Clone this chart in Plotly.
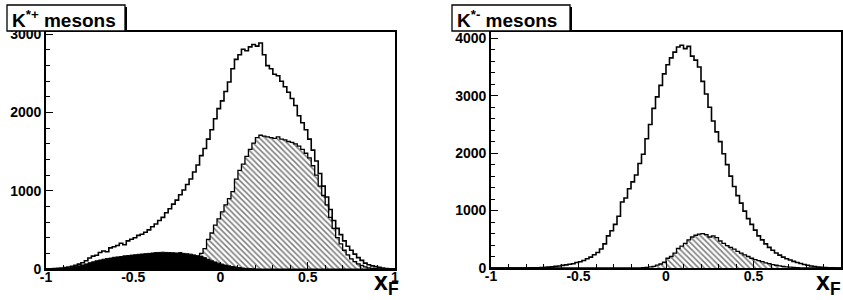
import numpy as np
import plotly.graph_objects as go

# 100 bins of width 0.02 from -1 to 1 (x_F)
BIN_EDGES = np.round(np.linspace(-1.0, 1.0, 101), 4)

# ---- K*+ mesons (left) ----
kplus_total = [
    0, 2, 5, 8, 12, 18, 25, 35, 48, 62,
    80, 105, 140, 165, 175, 210, 230, 220, 270, 285,
    300, 330, 310, 360, 380, 400, 430, 445, 470, 500,
    540, 575, 620, 660, 720, 770, 830, 880, 950, 1010,
    1080, 1150, 1240, 1330, 1450, 1540, 1660, 1780, 1920, 2050,
    2150, 2270, 2390, 2560, 2680, 2740, 2810, 2790, 2840, 2870,
    2850, 2890, 2740, 2600, 2560, 2490, 2470, 2400, 2330, 2260,
    2180, 2090, 1960, 1870, 1780, 1660, 1520, 1380, 1220, 1060,
    920, 760, 620, 520, 440, 360, 290, 240, 190, 145,
    110, 75, 55, 40, 30, 22, 12, 6, 2, 0,
]
kplus_hatched = [
    0, 0, 0, 0, 0, 0, 0, 0, 0, 0,
    0, 0, 0, 0, 0, 0, 0, 0, 0, 0,
    0, 0, 0, 0, 0, 0, 0, 0, 0, 0,
    0, 0, 0, 0, 0, 0, 0, 0, 5, 10,
    20, 40, 70, 130, 200, 260, 380, 460, 560, 640,
    730, 820, 900, 990, 1150, 1260, 1340, 1440, 1530, 1610,
    1680, 1710, 1700, 1690, 1680, 1670, 1690, 1660, 1650, 1630,
    1620, 1600, 1570, 1530, 1480, 1420, 1320, 1200, 1060, 940,
    820, 660, 520, 400, 320, 240, 180, 130, 95, 65,
    45, 28, 15, 8, 4, 0, 0, 0, 0, 0,
]
kplus_black = [
    0, 0, 2, 4, 6, 10, 15, 22, 30, 40,
    52, 65, 80, 92, 105, 115, 125, 135, 140, 150,
    155, 160, 168, 172, 178, 182, 188, 192, 196, 200,
    205, 210, 212, 215, 212, 210, 208, 205, 210, 200,
    195, 190, 180, 170, 160, 145, 125, 105, 90, 75,
    62, 50, 40, 32, 25, 18, 12, 8, 5, 3,
    1, 0, 0, 0, 0, 0, 0, 0, 0, 0,
    0, 0, 0, 0, 0, 0, 0, 0, 0, 0,
    0, 0, 0, 0, 0, 0, 0, 0, 0, 0,
    0, 0, 0, 0, 0, 0, 0, 0, 0, 0,
]

# ---- K*- mesons (right) ----
kminus_total = [
    0, 0, 0, 0, 0, 0, 0, 0, 0, 0,
    0, 2, 3, 5, 8, 12, 16, 20, 28, 35,
    45, 55, 65, 75, 95, 110, 130, 160, 190, 230,
    270, 330, 420, 560, 650, 760, 900, 1150, 1220, 1380,
    1500, 1620, 1820, 1980, 2250, 2500, 2780, 2980, 3180, 3380,
    3540, 3660, 3760, 3850, 3880, 3820, 3860, 3690, 3620, 3500,
    3250, 3030, 2800, 2560, 2370, 2200, 1990, 1800, 1600, 1420,
    1260, 1130, 990, 860, 760, 660, 560, 490, 420, 360,
    310, 260, 225, 190, 160, 140, 115, 95, 78, 62,
    48, 36, 25, 18, 12, 8, 5, 3, 1, 0,
]
kminus_hatched = [
    0, 0, 0, 0, 0, 0, 0, 0, 0, 0,
    0, 0, 0, 0, 0, 0, 0, 0, 0, 0,
    0, 0, 0, 0, 0, 0, 0, 0, 0, 0,
    0, 0, 0, 0, 0, 0, 0, 0, 0, 0,
    0, 0, 0, 5, 10, 18, 30, 50, 70, 100,
    170, 200, 260, 340, 380, 430, 490, 540, 570, 590,
    600, 580, 540, 560, 530, 470, 430, 390, 360, 330,
    290, 260, 230, 200, 170, 145, 130, 110, 90, 75,
    60, 48, 38, 28, 20, 14, 9, 5, 2, 0,
    0, 0, 0, 0, 0, 0, 0, 0, 0, 0,
]

titles = ["K<sup>*+</sup> mesons", "K<sup>*-</sup> mesons"]
x_ticks = [-1, -0.5, 0, 0.5, 1]
x_tick_text = ["-1", "-0.5", "0", "0.5", "1"]

W, H = 843, 300
FONT = "Liberation Sans"


def px(x):
    return x / W


def py(y):
    return 1 - y / H


def step_y(vals):
    return list(vals) + [vals[-1]]


fig = go.Figure()

HATCH = dict(shape="\\", fgcolor="black", bgcolor="white", size=4, solidity=0.4)

panels = [
    dict(xa="x", ya="y", total=kplus_total, hatched=kplus_hatched, black=kplus_black),
    dict(xa="x2", ya="y2", total=kminus_total, hatched=kminus_hatched, black=None),
]

for p in panels:
    xs = BIN_EDGES
    fig.add_trace(go.Scatter(
        x=xs, y=step_y(p["hatched"]), xaxis=p["xa"], yaxis=p["ya"],
        mode="lines", line=dict(shape="hv", color="black", width=1.3),
        fill="tozeroy", fillcolor="white", fillpattern=HATCH,
        hoverinfo="skip", showlegend=False))
    if p["black"] is not None:
        fig.add_trace(go.Scatter(
            x=xs, y=step_y(p["black"]), xaxis=p["xa"], yaxis=p["ya"],
            mode="lines", line=dict(shape="hv", color="black", width=1),
            fill="tozeroy", fillcolor="black",
            hoverinfo="skip", showlegend=False))
    fig.add_trace(go.Scatter(
        x=xs, y=step_y(p["total"]), xaxis=p["xa"], yaxis=p["ya"],
        mode="lines", line=dict(shape="hv", color="black", width=1.6),
        hoverinfo="skip", showlegend=False))

axis_common = dict(
    showline=True, linecolor="black", linewidth=1.8, mirror=True,
    ticks="inside", tickcolor="black", tickwidth=1.4, ticklen=7,
    showgrid=False, zeroline=False, automargin=False,
    tickfont=dict(family=FONT, size=14, color="black", weight=700),
)
xaxis_common = dict(axis_common, range=[-1, 1], tickvals=x_ticks, ticktext=x_tick_text,
                    minor=dict(ticks="inside", ticklen=4, dtick=0.1, tickcolor="black", tickwidth=1.2),
                    ticklabelstandoff=-6)
yaxis_common = dict(axis_common, dtick=1000,
                    minor=dict(ticks="inside", ticklen=4, dtick=200, tickcolor="black", tickwidth=1.2),
                    ticklabelstandoff=0)

fig.update_layout(
    width=W, height=H,
    margin=dict(l=0, r=0, t=0, b=0),
    paper_bgcolor="white", plot_bgcolor="white",
    xaxis=dict(xaxis_common, domain=[px(46), px(395)], anchor="y"),
    yaxis=dict(yaxis_common, domain=[py(269), py(32)], range=[0, 3030], anchor="x"),
    xaxis2=dict(xaxis_common, domain=[px(491), px(841)], anchor="y2"),
    yaxis2=dict(yaxis_common, domain=[py(268), py(32)], range=[0, 4110], anchor="x2"),
)

# title boxes
boxes = [(7, 5, 125, 31), (452, 5, 570, 31)]
for (x0, y0, x1, y1), t in zip(boxes, titles):
    fig.add_shape(type="rect", xref="paper", yref="paper",
                  x0=px(x0), x1=px(x1), y0=py(y1), y1=py(y0),
                  line=dict(color="black", width=1.3), fillcolor="white", layer="above")
    fig.add_shape(type="line", xref="paper", yref="paper",
                  x0=px(x1 + 1), x1=px(x1 + 1), y0=py(y1), y1=py(y0 + 2),
                  line=dict(color="black", width=2), layer="above")
    fig.add_annotation(text=t, xref="paper", yref="paper",
                       x=px(x0 + 3), y=py(19), xanchor="left", yanchor="middle",
                       showarrow=False,
                       font=dict(family=FONT, size=19, color="black", weight=700))

# x_F labels
for xr in [401, 843]:
    fig.add_annotation(text="x<sub>F</sub>", xref="paper", yref="paper",
                       x=px(xr), y=py(301), xanchor="right", yanchor="bottom",
                       showarrow=False,
                       font=dict(family=FONT, size=25, color="black", weight=700))

fig.write_html("out.html", config={"displayModeBar": False},
               post_script="document.body.style.margin='0px';document.body.style.padding='0px';")
